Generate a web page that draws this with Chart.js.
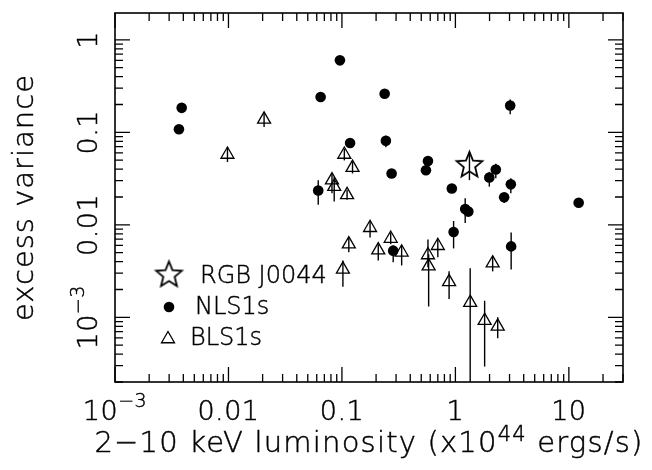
<!DOCTYPE html>
<html><head><meta charset="utf-8">
<script src="https://cdn.jsdelivr.net/npm/chart.js@4/dist/chart.umd.min.js"></script>
<style>html,body{margin:0;padding:0;background:#fff}canvas{display:block}</style>
</head><body>
<canvas id="c" width="652" height="470"></canvas>
<script>
// ---- data ----
const rgbX = [1.33];
const rgbY = [0.044];
const rgbLo = [0.0304];
const rgbHi = [0.061];

const nlsX  = [0.00387, 0.00366, 0.0649, 0.0618, 0.096, 0.238, 3.04, 0.118, 0.244, 0.573, 0.55, 0.274, 2.27, 1.99, 3.08, 0.93, 2.69, 12.2, 1.22, 1.30, 0.964, 0.283, 3.10];
const nlsY  = [0.184, 0.108, 0.241, 0.0235, 0.60, 0.261, 0.195, 0.0767, 0.0812, 0.049, 0.0389, 0.0359, 0.0396, 0.0325, 0.0274, 0.0247, 0.0199, 0.0173, 0.0148, 0.0139, 0.00838, 0.00526, 0.00585];
const nlsLo = [null, null, null, 0.0165, null, null, 0.157, null, 0.069, null, null, null, 0.0318, 0.0259, 0.0220, null, 0.0172, null, 0.0105, null, 0.00556, 0.00395, 0.0033];
const nlsHi = [null, null, null, 0.0304, null, null, 0.226, null, 0.0918, null, null, null, 0.0458, 0.0374, 0.0318, null, 0.0220, null, 0.0194, null, 0.0110, 0.00598, 0.00824];

const blsX  = [0.0098, 0.0206, 0.105, 0.124, 0.0817, 0.0855, 0.111, 0.177, 0.115, 0.269, 0.209, 0.336, 0.573, 0.581, 0.70, 0.102, 2.13, 0.88, 1.35, 1.81, 2.36];
const blsY  = [0.0576, 0.138, 0.0576, 0.0416, 0.0304, 0.0259, 0.0211, 0.0093, 0.00618, 0.00711, 0.00533, 0.00505, 0.00472, 0.00358, 0.00594, 0.0033, 0.00385, 0.00242, 0.00144, 0.00092, 0.0008];
const blsLo = [0.0478, 0.1145, 0.0497, 0.0359, 0.0220, 0.0179, 0.0187, 0.0073, 0.00505, 0.00618, 0.00411, 0.00364, 0.00349, 0.00131, 0.00446, 0.00214, 0.00314, 0.00158, 0.00001, 0.000294, 0.000593];
const blsHi = [0.069, 0.163, 0.0662, 0.0479, 0.0359, 0.0331, 0.0238, 0.0110, 0.0073, 0.00824, 0.00618, 0.00598, 0.00694, 0.00481, 0.00709, 0.00411, 0.00457, 0.00314, 0.0034, 0.00151, 0.0010];

const xTickValues = [0.001, 0.01, 0.1, 1, 10];
const xTickLabels = ['10^\u22123', '0.01', '0.1', '1', '10'];
const yTickValues = [0.001, 0.01, 0.1, 1];
const yTickLabels = ['10^\u22123', '0.01', '0.1', '1'];
const xTitle = '2\u221210 keV luminosity (x10^44^ ergs/s)';
const yTitle = 'excess variance';
const legendLabels = ['RGB J0044', 'NLS1s', 'BLS1s'];

// ---- helpers ----
const FONT = '"DejaVu Sans", "Liberation Sans", sans-serif';
const WEIGHT = '200';
const TEXT_STROKE = 0.45;

function makeStar(R, ratio, lw) {
  const s = Math.ceil(2 * R + 2 * lw + 2);
  const c = document.createElement('canvas');
  c.width = s; c.height = s;
  const g = c.getContext('2d');
  g.translate(s / 2, s / 2);
  g.beginPath();
  for (let i = 0; i < 10; i++) {
    const rad = (i % 2) ? R * ratio : R;
    const a = -Math.PI / 2 + i * Math.PI / 5;
    g.lineTo(rad * Math.cos(a), rad * Math.sin(a));
  }
  g.closePath();
  g.lineWidth = lw; g.strokeStyle = '#000'; g.lineJoin = 'miter';
  g.stroke();
  return c;
}
const starImg = makeStar(13.5, 0.44, 1.8);

const HAS_LS = 'letterSpacing' in CanvasRenderingContext2D.prototype;

function parts(str) {
  return str.split('^').map((t, i) => ({ t, sup: i % 2 === 1 }));
}
function advance(ctx, t, ls) {
  return ctx.measureText(t).width + (HAS_LS ? 0 : ls * t.length);
}
function textAt(ctx, t, x, y) {
  ctx.fillText(t, x, y);
  ctx.lineWidth = TEXT_STROKE;
  ctx.strokeText(t, x, y);
}
// draws rich text centered at (0,0) baseline, in current transform
function drawRich(ctx, str, size, sup, raise, ls) {
  if (HAS_LS) ctx.letterSpacing = ls + 'px';
  let w = 0;
  for (const p of parts(str)) {
    ctx.font = WEIGHT + ' ' + (p.sup ? sup : size) + 'px ' + FONT;
    w += advance(ctx, p.t, ls);
  }
  let x = -w / 2;
  ctx.textAlign = 'left';
  ctx.textBaseline = 'alphabetic';
  for (const p of parts(str)) {
    ctx.font = WEIGHT + ' ' + (p.sup ? sup : size) + 'px ' + FONT;
    textAt(ctx, p.t, x, p.sup ? -raise : 0);
    x += advance(ctx, p.t, ls);
  }
  if (HAS_LS) ctx.letterSpacing = '0px';
}

function errorBars(ctx, chart, xs, lo, hi) {
  const sx = chart.scales.x, sy = chart.scales.y;
  for (let i = 0; i < xs.length; i++) {
    if (lo[i] == null) continue;
    const px = sx.getPixelForValue(xs[i]);
    ctx.beginPath();
    ctx.moveTo(px, sy.getPixelForValue(lo[i]));
    ctx.lineTo(px, sy.getPixelForValue(hi[i]));
    ctx.stroke();
  }
}

function minorMajor(scale, cb) {
  const e0 = Math.floor(Math.log10(scale.min)), e1 = Math.ceil(Math.log10(scale.max));
  for (let e = e0; e <= e1; e++) {
    for (let m = 1; m < 10; m++) {
      const v = m * Math.pow(10, e);
      if (v < scale.min * 0.9999 || v > scale.max * 1.0001) continue;
      cb(scale.getPixelForValue(v), m === 1);
    }
  }
}

const overlay = {
  id: 'overlay',
  beforeDatasetsDraw(chart) {
    const ctx = chart.ctx, a = chart.chartArea;
    ctx.save();
    ctx.beginPath(); ctx.rect(a.left, a.top, a.right - a.left, a.bottom - a.top); ctx.clip();
    ctx.strokeStyle = '#000'; ctx.lineWidth = 1.4;
    errorBars(ctx, chart, nlsX, nlsLo, nlsHi);
    errorBars(ctx, chart, blsX, blsLo, blsHi);
    errorBars(ctx, chart, rgbX, rgbLo, rgbHi);
    ctx.restore();
  },
  afterDraw(chart) {
    const ctx = chart.ctx, a = chart.chartArea;
    const sx = chart.scales.x, sy = chart.scales.y;
    ctx.save();
    ctx.strokeStyle = '#000'; ctx.fillStyle = '#000';
    // frame
    ctx.lineWidth = 1.6;
    ctx.strokeRect(a.left, a.top, a.right - a.left, a.bottom - a.top);
    // ticks (inward, all four sides)
    ctx.lineWidth = 1.3;
    ctx.beginPath();
    minorMajor(sx, (p, major) => {
      const L = major ? 15 : 8;
      ctx.moveTo(p, a.bottom); ctx.lineTo(p, a.bottom - L);
      ctx.moveTo(p, a.top); ctx.lineTo(p, a.top + L);
    });
    minorMajor(sy, (p, major) => {
      const L = major ? 15 : 8;
      ctx.moveTo(a.left, p); ctx.lineTo(a.left + L, p);
      ctx.moveTo(a.right, p); ctx.lineTo(a.right - L, p);
    });
    ctx.stroke();
    // x tick labels
    xTickValues.forEach((v, i) => {
      ctx.save();
      ctx.translate(sx.getPixelForValue(v), 420);
      drawRich(ctx, xTickLabels[i], 27, 19, 13, 0.5);
      ctx.restore();
    });
    // y tick labels (rotated)
    yTickValues.forEach((v, i) => {
      ctx.save();
      ctx.translate(97, sy.getPixelForValue(v));
      ctx.rotate(-Math.PI / 2);
      drawRich(ctx, yTickLabels[i], 27, 19, 13, 0.5);
      ctx.restore();
    });
    // axis titles
    ctx.save();
    ctx.translate((a.left + a.right) / 2, 452);
    drawRich(ctx, xTitle, 29, 21, 11, 1.2);
    ctx.restore();
    ctx.save();
    ctx.translate(33, (a.top + a.bottom) / 2);
    ctx.rotate(-Math.PI / 2);
    drawRich(ctx, yTitle, 29, 21, 10, 1);
    ctx.restore();
    // legend
    ctx.drawImage(starImg, 169 - starImg.width / 2, 275 - starImg.height / 2);
    ctx.beginPath(); ctx.arc(169, 307, 5.3, 0, 2 * Math.PI); ctx.fill();
    ctx.lineWidth = 1.3;
    const tr = 7.5;
    ctx.beginPath();
    ctx.moveTo(168, 339 - tr);
    ctx.lineTo(168 + tr * Math.sin(2 * Math.PI / 3), 339 + tr / 2);
    ctx.lineTo(168 - tr * Math.sin(2 * Math.PI / 3), 339 + tr / 2);
    ctx.closePath(); ctx.stroke();
    ctx.font = WEIGHT + ' 24px ' + FONT;
    ctx.textAlign = 'left'; ctx.textBaseline = 'alphabetic';
    textAt(ctx, legendLabels[0], 200, 283);
    textAt(ctx, legendLabels[1], 195, 314);
    textAt(ctx, legendLabels[2], 190, 345);
    ctx.restore();
  }
};

const toPts = (xs, ys) => xs.map((x, i) => ({ x, y: ys[i] }));

new Chart(document.getElementById('c'), {
  type: 'scatter',
  data: {
    datasets: [
      { label: legendLabels[1], data: toPts(nlsX, nlsY), pointStyle: 'circle', pointRadius: 5.3,
        backgroundColor: '#000', borderColor: '#000', borderWidth: 0 },
      { label: legendLabels[2], data: toPts(blsX, blsY), pointStyle: 'triangle', pointRadius: 7.5,
        backgroundColor: 'rgba(0,0,0,0)', borderColor: '#000', borderWidth: 1.3 },
      { label: legendLabels[0], data: toPts(rgbX, rgbY), pointStyle: starImg, pointRadius: 13,
        backgroundColor: 'rgba(0,0,0,0)', borderColor: '#000', borderWidth: 0 }
    ]
  },
  options: {
    responsive: false,
    animation: false,
    devicePixelRatio: 1,
    layout: { padding: { left: 115, right: 29, top: 7, bottom: 88 } },
    plugins: { legend: { display: false }, tooltip: { enabled: false } },
    events: [],
    scales: {
      x: { type: 'logarithmic', min: 0.001, max: 30, display: false },
      y: { type: 'logarithmic', min: 0.0002, max: 1.95, display: false }
    }
  },
  plugins: [overlay]
});
</script>
</body></html>
